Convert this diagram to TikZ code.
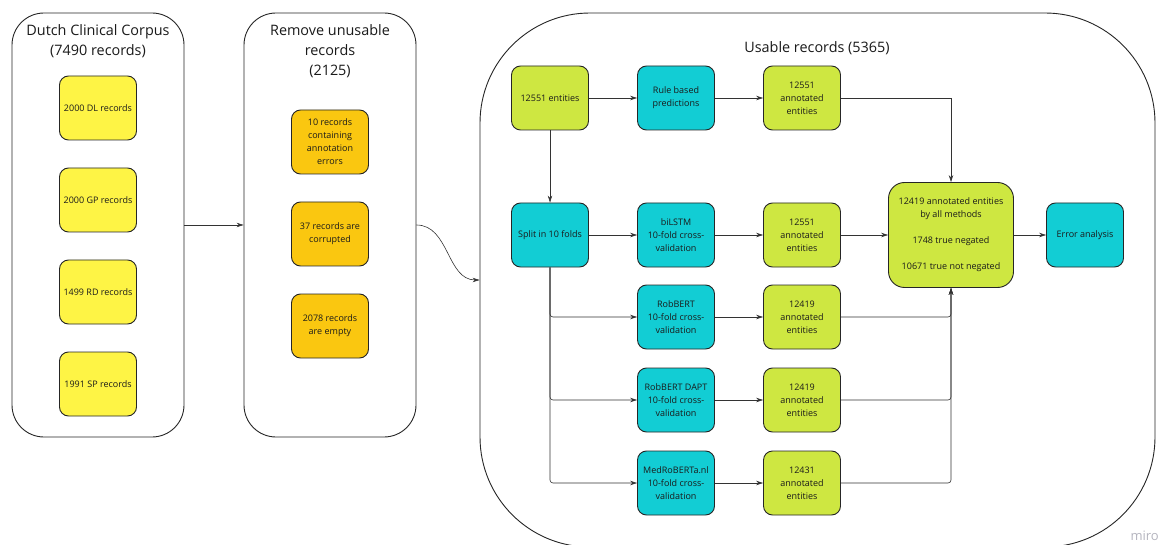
\documentclass[tikz,border=0pt]{standalone}
\usepackage{fontspec}
\setmainfont{Open Sans}
\usetikzlibrary{arrows.meta}
\definecolor{myyellow}{HTML}{FEF445}
\definecolor{myorange}{HTML}{FAC710}
\definecolor{mygreen}{HTML}{CEE741}
\definecolor{mycyan}{HTML}{12CDD4}
\definecolor{mytext}{HTML}{1A1A1A}
\definecolor{mirogray}{HTML}{B4B4BE}
\begin{document}
\begin{tikzpicture}[x=1pt,y=-1pt,
  panel/.style={draw=black!85, line width=0.9pt, fill=white},
  ptitle/.style={align=center, text=mytext, font=\fontsize{14.4}{20}\selectfont},
  box/.style={draw=black!85, line width=0.9pt, rounded corners=9pt, minimum width=77pt, minimum height=64pt,
    align=center, text=mytext, font=\fontsize{9}{13}\selectfont, inner sep=1pt},
  ybox/.style={box, fill=myyellow},
  obox/.style={box, fill=myorange},
  gbox/.style={box, fill=mygreen},
  cbox/.style={box, fill=mycyan},
  arr/.style={draw=black!80, line width=0.6pt, -{Stealth[length=7pt,width=4.5pt]}},
  ]
\useasboundingbox (0,0) rectangle (1161,545);
% panels
\node[panel, rounded corners=32pt, minimum width=172pt, minimum height=424pt] (p1) at (98,225) {};
\node[panel, rounded corners=32pt, minimum width=172pt, minimum height=424pt] (p2) at (330,225) {};
\node[panel, rounded corners=110pt, minimum width=675pt, minimum height=534pt] (p3) at (817.5,280) {};
\node[ptitle] (t1) at (98,41) {Dutch Clinical Corpus\\(7490 records)};
\node[ptitle] (t2) at (330,51) {Remove unusable\\records\\(2125)};
\node[ptitle] (t3) at (817,48) {Usable records (5365)};
% left panel
\node[ybox] (y1) at (98,108) {2000 DL records};
\node[ybox] (y2) at (98,200) {2000 GP records};
\node[ybox] (y3) at (98,292) {1499 RD records};
\node[ybox] (y4) at (98,384) {1991 SP records};
% middle panel
\node[obox] (o1) at (330,142) {10 records\\containing\\annotation\\errors};
\node[obox] (o2) at (330,234) {37 records are\\corrupted};
\node[obox] (o3) at (330,326) {2078 records\\are empty};
% right panel
\node[gbox] (ent) at (550,98) {12551 entities};
\node[cbox] (rule) at (676,98) {Rule based\\predictions};
\node[gbox] (a1) at (802,98) {12551\\annotated\\entities};
\node[cbox] (split) at (550,235) {Split in 10 folds};
\node[cbox] (bil) at (676,235) {biLSTM\\10-fold cross-\\validation};
\node[gbox] (a2) at (802,235) {12551\\annotated\\entities};
\node[cbox] (rob) at (676,317) {RobBERT\\10-fold cross-\\validation};
\node[gbox] (a3) at (802,317) {12419\\annotated\\entities};
\node[cbox] (dapt) at (676,400) {RobBERT DAPT\\10-fold cross-\\validation};
\node[gbox] (a4) at (802,400) {12419\\annotated\\entities};
\node[cbox] (med) at (676,483) {MedRoBERTa.nl\\10-fold cross-\\validation};
\node[gbox] (a5) at (802,483) {12431\\annotated\\entities};
\node[gbox, minimum width=125pt, minimum height=105pt, rounded corners=16pt] (big) at (951,235)
  {12419 annotated entities\\by all methods\\[13pt]1748 true negated\\[13pt]10671 true not negated};
\node[cbox] (err) at (1085,235) {Error analysis};
% connectors
\draw[arr] (p1.east) -- (p2.west);
\draw[arr] (p2.east) to[out=0,in=180] (p3.west);
\draw[arr] (ent) -- (rule);
\draw[arr] (rule) -- (a1);
\draw[arr] (ent) -- (split);
\draw[arr] (split) -- (bil);
\draw[arr] (bil) -- (a2);
\draw[arr, rounded corners=3pt] (split.south) |- (rob.west);
\draw[arr, rounded corners=3pt] (split.south) |- (dapt.west);
\draw[arr, rounded corners=3pt] (split.south) |- (med.west);
\draw[arr] (rob) -- (a3);
\draw[arr] (dapt) -- (a4);
\draw[arr] (med) -- (a5);
\draw[arr] (a1.east) -| (big.north);
\draw[arr] (a2) -- (big);
\draw[arr, rounded corners=3pt] (a3.east) -| (big.south);
\draw[arr, rounded corners=3pt] (a4.east) -| (big.south);
\draw[arr, rounded corners=3pt] (a5.east) -| (big.south);
\draw[arr] (big) -- (err);
\node[text=mirogray, font=\fontsize{13}{13}\selectfont, anchor=south east, inner sep=0pt] (miro) at (1159,541) {miro};
\end{tikzpicture}
\end{document}
